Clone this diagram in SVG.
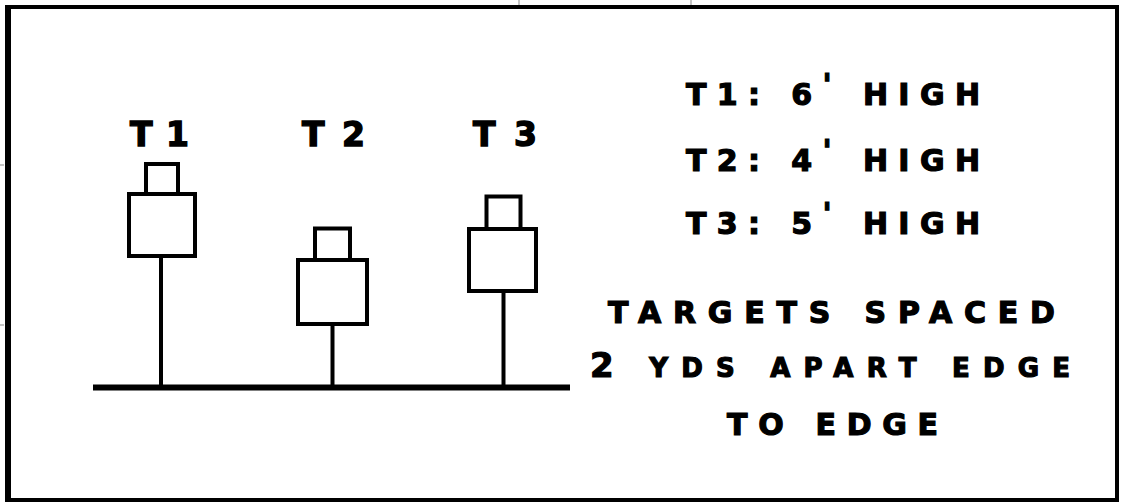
<svg xmlns="http://www.w3.org/2000/svg" width="1122" height="503" viewBox="0 0 1122 503">
<style>
.box{fill:#fff;stroke:#000;stroke-width:4}
.pole{stroke:#000;stroke-width:4;fill:none}
.lbl{font-family:"DejaVu Sans","Liberation Sans",sans-serif;font-weight:bold;font-size:33px;fill:#000;stroke:#000;stroke-width:1.4}
.txt{font-family:"DejaVu Sans","Liberation Sans",sans-serif;font-weight:bold;font-size:30px;fill:#000;stroke:#000;stroke-width:1.2}
.tick{stroke:#b0b0b0;stroke-width:1.5}
</style>
<rect width="1122" height="503" fill="#fff"/>
<g id="artifacts">
<line class="tick" x1="519" y1="0" x2="519" y2="5"/>
<line class="tick" x1="691" y1="0" x2="691" y2="5"/>
<line class="tick" x1="0" y1="165" x2="4" y2="165"/>
<line class="tick" x1="0" y1="325" x2="4" y2="325"/>
</g>
<g id="frame">
<path d="M5 5H1119V502H5Z M11 9V498H1115V9Z" fill="#000" fill-rule="evenodd"/>
</g>
<g id="ground">
<line x1="93" y1="387.5" x2="570" y2="387.5" stroke="#000" stroke-width="6"/>
</g>
<g id="connectors">
<line class="pole" x1="161" y1="256" x2="161" y2="386"/>
<line class="pole" x1="332.5" y1="325" x2="332.5" y2="386"/>
<line class="pole" x1="503.5" y1="292" x2="503.5" y2="386"/>
</g>
<g id="target-t1">
<text class="lbl" x="130" y="145.5" textLength="59">T 1</text>
<rect class="box" x="146" y="164" width="32" height="30"/>
<rect class="box" x="129" y="194" width="66" height="62"/>
</g>
<g id="target-t2">
<text class="lbl" x="302" y="145.5" textLength="63">T2</text>
<rect class="box" x="315" y="228.5" width="35" height="31.5"/>
<rect class="box" x="298" y="260" width="69" height="64"/>
</g>
<g id="target-t3">
<text class="lbl" x="473" y="145.5" textLength="64">T3</text>
<rect class="box" x="486.5" y="196.5" width="34" height="32.5"/>
<rect class="box" x="469" y="229" width="67" height="62"/>
</g>
<g id="legend">
<text class="txt" x="686" y="105" textLength="294">T1: 6<tspan dy="-10">'</tspan><tspan dy="10"> HIGH</tspan></text>
<text class="txt" x="686" y="170.5" textLength="294">T2: 4<tspan dy="-10">'</tspan><tspan dy="10"> HIGH</tspan></text>
<text class="txt" x="686" y="233.5" textLength="294">T3: 5<tspan dy="-10">'</tspan><tspan dy="10"> HIGH</tspan></text>
</g>
<g id="note">
<text class="txt" x="608" y="322.5" textLength="447">TARGETS SPACED</text>
<text class="txt" x="590" y="377" textLength="480"><tspan font-size="34">2</tspan><tspan font-size="26"> YDS APART EDGE</tspan></text>
<text class="txt" x="727" y="435" textLength="211">TO EDGE</text>
</g>
</svg>
